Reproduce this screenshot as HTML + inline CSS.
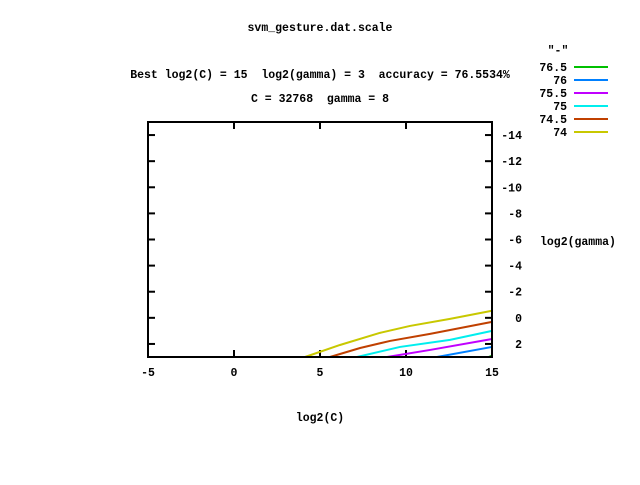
<!DOCTYPE html>
<html><head><meta charset="utf-8"><style>
body{margin:0;background:#fff}
svg text{font-family:"Liberation Mono",monospace;font-size:11.5px;font-weight:bold;fill:#000;white-space:pre}
</style></head><body>
<svg id="chart" width="640" height="480" xmlns="http://www.w3.org/2000/svg" xml:space="preserve">
<text x="320" y="31" text-anchor="middle">svm_gesture.dat.scale</text>
<text x="320" y="78" text-anchor="middle">Best log2(C) = 15  log2(gamma) = 3  accuracy = 76.5534%</text>
<text x="320" y="102" text-anchor="middle">C = 32768  gamma = 8</text>
<text x="320" y="421" text-anchor="middle">log2(C)</text>
<text x="540" y="245">log2(gamma)</text>
<text x="558" y="54" text-anchor="middle">"-"</text>
<g id="ticks"></g>
<g id="lines"></g>
<g id="legend"></g>
<rect x="148" y="122" width="344" height="235" fill="none" stroke="#000" stroke-width="2"/>
</svg>
<script>
const xTicks=[-5,0,5,10,15];
const yTicks=[-14,-12,-10,-8,-6,-4,-2,0,2];
const levels=["76.5","76","75.5","75","74.5","74"];
const colors=["#00c000","#0080ff","#c000ff","#00eeee","#c04000","#c8c800"];
const c765=[[14.8,3],[15,2.9]];
const c76=[[11.8,3],[15,2.23]];
const c755=[[8.9,3],[11.4,2.46],[15,1.62]];
const c75=[[7.15,3],[9.65,2.23],[12.56,1.69],[15,1.0]];
const c745=[[5.58,3],[7.33,2.31],[9.07,1.77],[11.4,1.23],[15,0.31]];
const c74=[[4.13,3],[6.16,2.08],[8.49,1.15],[10.23,0.62],[12.56,0.08],[15,-0.54]];
const series=[c765,c76,c755,c75,c745,c74];
const X=v=>148+(v+5)*344/20;
const Y=v=>357-(3-v)*235/18;
const NS="http://www.w3.org/2000/svg";
function mk(t,a,p){const e=document.createElementNS(NS,t);for(const k in a)e.setAttribute(k,a[k]);p.appendChild(e);return e;}
const tg=document.getElementById('ticks');
xTicks.forEach(v=>{
 const l=mk('line',{x1:X(v),x2:X(v),y1:357,y2:350,stroke:'#000','stroke-width':2},tg);
 
 
 const l2=mk('line',{x1:X(v),x2:X(v),y1:122,y2:129,stroke:'#000','stroke-width':2},tg);
 
 
 const t=mk('text',{x:X(v),y:376,'text-anchor':'middle'},tg);t.textContent=v;
 
 
});
yTicks.forEach(v=>{
 const l=mk('line',{x1:485,x2:492,y1:Y(v),y2:Y(v),stroke:'#000','stroke-width':2},tg);
 
 
 const l2=mk('line',{x1:148,x2:155,y1:Y(v),y2:Y(v),stroke:'#000','stroke-width':2},tg);
 
 
 const t=mk('text',{x:522,y:Y(v)+4,'text-anchor':'end'},tg);t.textContent=v;
 
 
});
const lg=document.getElementById('lines');
series.forEach((s,i)=>{
 const p=mk('polyline',{points:s.map(d=>X(d[0])+','+Y(d[1])).join(' '),fill:'none',stroke:colors[i],'stroke-width':2},lg);
 
 
});
const leg=document.getElementById('legend');
levels.forEach((lv,i)=>{
 const y=67+i*13;
 const t=mk('text',{x:567,y:y+4,'text-anchor':'end'},leg);t.textContent=lv;
 
 
 const l=mk('line',{x1:574,x2:608,y1:y,y2:y,stroke:colors[i],'stroke-width':2},leg);
 
 
});
</script>
</body></html>
